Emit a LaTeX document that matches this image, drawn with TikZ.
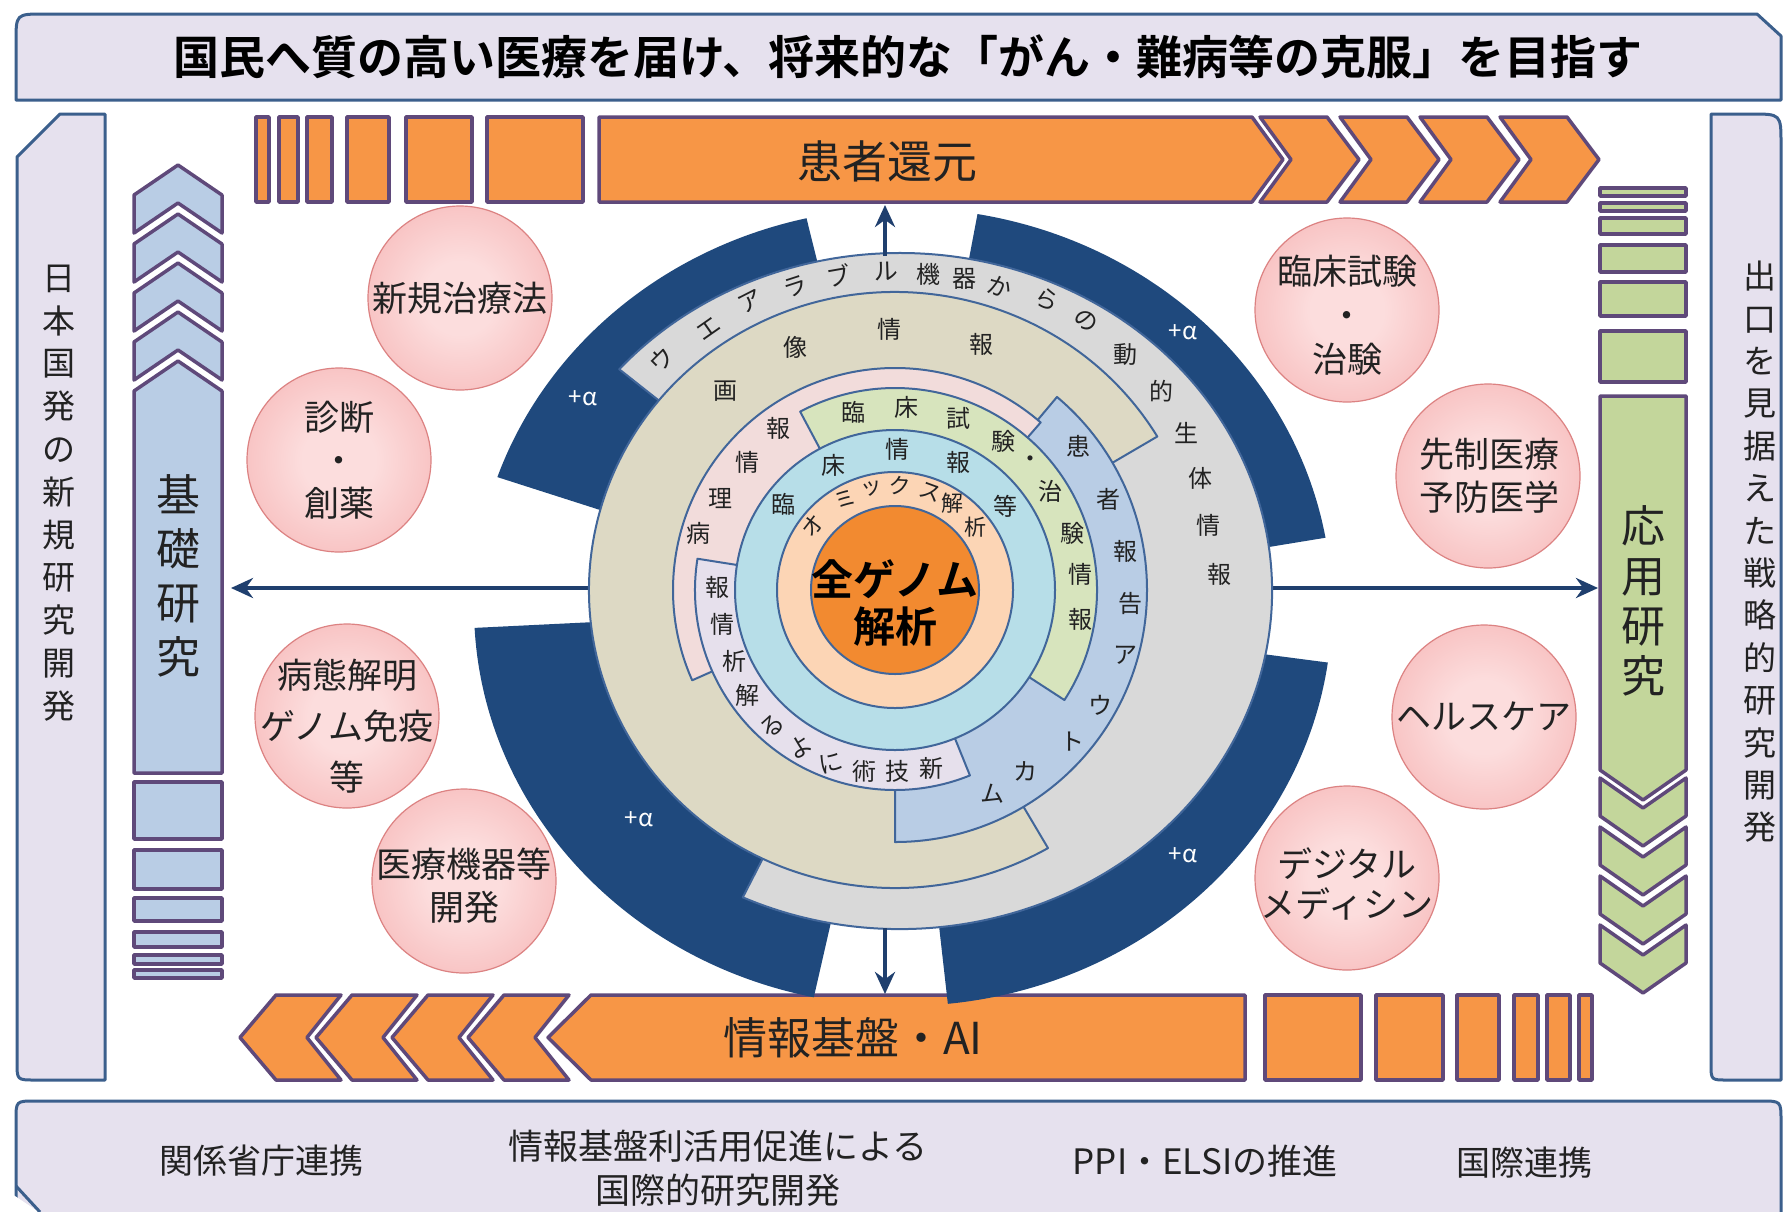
\documentclass[tikz,border=0pt]{standalone}
\usepackage{fontspec}
\newfontfamily\jp{Noto Sans CJK JP}
\newfontfamily\jpb{Noto Sans CJK JP Bold}
\usetikzlibrary{arrows.meta}
\newcommand\myfs[1]{\fontsize{#1}{#1}\selectfont}
\definecolor{panelfill}{HTML}{E6E1EE}
\definecolor{panelline}{HTML}{3B5F8C}
\definecolor{orangeb}{HTML}{F79646}
\definecolor{purpleb}{HTML}{5F497A}
\definecolor{colblue}{HTML}{B9CDE5}
\definecolor{colgreen}{HTML}{C3D69B}
\definecolor{navyr}{HTML}{1F497D}
\definecolor{navyline}{HTML}{1F3F6E}
\definecolor{ringline}{HTML}{41669A}
\definecolor{grayr}{HTML}{D9D9D9}
\definecolor{tanr}{HTML}{DDD9C4}
\definecolor{bluer}{HTML}{B9CDE5}
\definecolor{pinkr}{HTML}{F2DCDB}
\definecolor{greenr}{HTML}{D7E4BD}
\definecolor{lavr}{HTML}{E6E0EC}
\definecolor{lbluer}{HTML}{B7DEE8}
\definecolor{peachr}{HTML}{FCD5B5}
\definecolor{corer}{HTML}{F28A30}
\definecolor{pinkA}{HTML}{FCDDDD}
\definecolor{pinkM}{HTML}{F6B6B6}
\definecolor{pinkB}{HTML}{EE8A8A}
\definecolor{pinkline}{HTML}{DC8282}
\definecolor{txt}{HTML}{222222}
\pgfdeclareradialshading{pinkball}{\pgfpoint{0bp}{0bp}}{color(0bp)=(pinkA); color(10bp)=(pinkA); color(34bp)=(pinkM); color(50bp)=(pinkB)}
\tikzset{
  panel/.style={fill=panelfill, draw=panelline, line width=3pt},
  bandpart/.style={fill=orangeb, draw=purpleb, line width=3.5pt},
  colpartb/.style={fill=colblue, draw=purpleb, line width=3.5pt},
  colpartg/.style={fill=colgreen, draw=purpleb, line width=3.5pt},
  ring/.style={draw=ringline, line width=2pt},
  ringtxt/.style={font=\jp\myfs{24}, text=txt, inner sep=0pt},
  pinkcircle/.style={circle, shade, shading=pinkball, draw=pinkline, line width=1.2pt, minimum size=184pt, inner sep=0pt},
  circtxt/.style={font=\jp\fontsize{35}{43}\selectfont, text=txt, align=center, inner sep=0pt},
  navyarrow/.style={draw=navyline, line width=4pt, -{Stealth[length=22pt,width=20pt]}},
  alpha/.style={font=\jp\myfs{24}, text=white, inner sep=0pt},
  vtxt/.style={font=\jp\fontsize{33}{42.8}\selectfont, text=txt, align=center, inner sep=0pt}
}
\begin{document}
\begin{tikzpicture}[x=1pt,y=-1pt,line join=round]
\useasboundingbox (0,0) rectangle (1783,1211);
\fill[white] (0,0) rectangle (1783,1211);

% ---------- top banner ----------
\draw[panel] (16,100) -- (16,42) .. controls (16,14) .. (44,14) -- (1757,14) -- (1781,36) -- (1781,100) -- cycle;
\node[font=\jpb\myfs{46}, text=black, inner sep=0pt] (title) at (908,57) {国民へ質の高い医療を届け、将来的な「がん・難病等の克服」を目指す};

% ---------- side panels ----------
\draw[panel] (105,114) -- (60,114) -- (17,157) -- (17,1062) .. controls (17,1080) .. (35,1080) -- (105,1080) -- cycle;
\node[vtxt] (lefttxt) at (59,493) {日\\本\\国\\発\\の\\新\\規\\研\\究\\開\\発};
\draw[panel] (1711,114) -- (1751,114) .. controls (1781,114) .. (1781,144) -- (1781,1080) -- (1727,1080) .. controls (1711,1080) .. (1711,1064) -- cycle;
\node[vtxt, font=\jp\fontsize{33}{42.4}\selectfont] (righttxt) at (1760,552) {出\\口\\を\\見\\据\\え\\た\\戦\\略\\的\\研\\究\\開\\発};

% ---------- bottom banner ----------
\draw[panel] (16,1214) -- (16,1120) .. controls (16,1101) .. (35,1101) -- (1761,1101) .. controls (1781,1101) .. (1781,1121) -- (1781,1214) -- cycle;
\fill[white] (0,1186) -- (42,1214) -- (0,1214) -- cycle;
\draw[draw=panelline, line width=3pt] (16,1186) -- (40,1212);
\node[font=\jp\myfs{34}, text=txt, inner sep=0pt] (b1) at (261,1161) {関係省庁連携};
\node[font=\jp\fontsize{35}{44}\selectfont, text=txt, align=center, inner sep=0pt] (b2) at (718,1168) {情報基盤利活用促進による\\国際的研究開発};
\node[font=\jp\myfs{35}, text=txt, inner sep=0pt] (b3) at (1205,1161) {PPI・ELSIの推進};
\node[font=\jp\myfs{34}, text=txt, inner sep=0pt] (b4) at (1524,1163) {国際連携};

% ---------- top band ----------
\foreach \a/\b in {256/269, 279/298, 307/332, 347/389, 406/472, 487/583}
  \draw[bandpart] (\a,117) rectangle (\b,202);
\draw[bandpart] (599,117) -- (1252,117) -- (1283,159.5) -- (1252,202) -- (599,202) -- cycle;
\foreach \L in {1260,1340,1420,1500}
  \draw[bandpart] (\L,117) -- (\L+67,117) -- (\L+99,159.5) -- (\L+67,202) -- (\L,202) -- (\L+31,159.5) -- cycle;
\node[font=\jp\myfs{45}, text=txt, inner sep=0pt] (kanja) at (887,161) {患者還元};

% ---------- bottom band ----------
\foreach \T in {240,316,392,468}
  \draw[bandpart] (\T,1037.5) -- (\T+36,995) -- (\T+101,995) -- (\T+67,1037.5) -- (\T+101,1080) -- (\T+36,1080) -- cycle;
\draw[bandpart] (548,1037.5) -- (591,995) -- (1245,995) -- (1245,1080) -- (591,1080) -- cycle;
\foreach \a/\b in {1265/1361, 1376/1443, 1457/1499, 1514/1538, 1547/1570, 1579/1592}
  \draw[bandpart] (\a,995) rectangle (\b,1080);
\node[font=\jp\myfs{44}, text=txt, inner sep=0pt] (joho) at (853,1038) {情報基盤・AI};

% ---------- left column ----------
\foreach \t in {165,214,263,312}
  \draw[colpartb] (178,\t) -- (222,\t+30) -- (222,\t+68) -- (178,\t+38) -- (134,\t+68) -- (134,\t+30) -- cycle;
\draw[colpartb] (178,361) -- (222,391) -- (222,773) -- (134,773) -- (134,391) -- cycle;
\foreach \a/\b in {782/839, 850/889, 898/921, 932/947, 955/964, 970/978}
  \draw[colpartb] (134,\a) rectangle (222,\b);
\node[font=\jp\fontsize{44}{54}\selectfont, text=txt, align=center, inner sep=0pt] (kiso) at (178,576) {基\\礎\\研\\究};

% ---------- right column ----------
\foreach \a/\b in {188/196, 203/211, 218/234, 245/272, 282/316, 331/382}
  \draw[colpartg] (1600,\a) rectangle (1686,\b);
\draw[colpartg] (1600,396) -- (1686,396) -- (1686,770) -- (1643,800) -- (1600,770) -- cycle;
\foreach \s in {778,827,876,925}
  \draw[colpartg] (1600,\s) -- (1643,\s+30) -- (1686,\s) -- (1686,\s+38) -- (1643,\s+68) -- (1600,\s+38) -- cycle;
\node[font=\jp\fontsize{44}{50}\selectfont, text=txt, align=center, inner sep=0pt] (oyo) at (1643,601) {応\\用\\研\\究};

% ---------- horizontal arrows ----------
\coordinate (hc) at (895,588);
\coordinate (kisoE) at (231,588);
\coordinate (oyoW) at (1598,588);
\draw[navyarrow] (hc) -- (kisoE);
\draw[navyarrow] (hc) -- (oyoW);

% ---------- central rings ----------
\begin{scope}[shift={(895,590)}, yscale=-1]
  \foreach \a/\b in {10/80, 103/161, 183/258, 276/352}
    \fill[navyr] (8,-17) -- ++(\a:429 and 399) arc[start angle=\a, end angle=\b, x radius=429, y radius=399] -- cycle;
  \filldraw[ring, fill=grayr] (5,-1) -- ++(-115:372 and 338) arc[start angle=-115, end angle=139, x radius=372, y radius=338] -- cycle;
  \filldraw[ring, fill=tanr] (0,0) -- (31:306 and 298) arc[start angle=31, end angle=300, x radius=306, y radius=298] -- cycle;
  \filldraw[ring, fill=bluer] (0,0) -- (-90:252) arc[start angle=-90, end angle=50, radius=252] -- cycle;
  \filldraw[ring, fill=pinkr] (0,0) -- (49:222) arc[start angle=49, end angle=204, radius=222] -- cycle;
  \filldraw[ring, fill=greenr] (0,0) -- (-33:202) arc[start angle=-33, end angle=118, radius=202] -- cycle;
  \filldraw[ring, fill=lavr] (0,0) -- (171:200) arc[start angle=171, end angle=292, radius=200] -- cycle;
  \filldraw[ring, fill=lbluer] (0,0) circle[radius=160];
  \filldraw[ring, fill=peachr] (0,0) circle[radius=118];
  \filldraw[ring, fill=corer] (0,0) circle[radius=84];
  % ring texts
  \foreach \c/\x/\y/\r [count=\i] in {ウ/-234/230/45, エ/-186/261/35, ア/-145/288/27, ラ/-100/303/18, ブ/-56/314/10, ル/-9/319/2, 機/33/316/0, 器/69/311/0, か/105/303/-19, ら/152/290/-28, の/191/269/-35, 動/230/235/0, 的/266/199/0, 生/291/157/0, 体/305/112/0, 情/313/65/0, 報/324/16/0}
    \node[ringtxt, rotate=\r] (wa\i) at (\x,\y) {\c};
  \foreach \c/\x/\y [count=\i] in {画/-170/199, 像/-100/243, 情/-6/261, 報/86/246}
    \node[ringtxt] (ga\i) at (\x,\y) {\c};
  \foreach \c/\x/\y [count=\i] in {病/-197/57, 理/-175/91, 情/-148/128, 報/-117/162}
    \node[ringtxt] (by\i) at (\x,\y) {\c};
  \foreach \c/\x/\y/\r [count=\i] in {報/-178/3/0, 情/-173/-34/0, 析/-161/-71/0, 解/-148/-105/0, る/-123/-136/40, よ/-95/-157/30, に/-64/-173/15, 術/-31/-181/0, 技/2/-181/0, 新/36/-178/0}
    \node[ringtxt, rotate=\r] (sg\i) at (\x,\y) {\c};
  \foreach \c/\x/\y [count=\i] in {臨/-112/86, 床/-62/125, 情/2/141, 報/63/128, 等/110/84}
    \node[ringtxt] (rj\i) at (\x,\y) {\c};
  \foreach \c/\x/\y/\r [count=\i] in {オ/-82/64/52, ミ/-50/91/29, ッ/-23/101/13, ク/5/104/-3, ス/35/98/-20, 解/57/87/0, 析/80/63/0}
    \node[ringtxt, font=\jp\myfs{22}, rotate=\r] (om\i) at (\x,\y) {\c};
  \foreach \c/\x/\y [count=\i] in {臨/-42/178, 床/11/183, 試/63/172, 験/108/149, ・/135/128, 治/155/99, 験/177/57, 情/185/16, 報/185/-29}
    \node[ringtxt] (ch\i) at (\x,\y) {\c};
  \foreach \c/\x/\y [count=\i] in {患/183/144, 者/213/91, 報/230/39, 告/235/-13, ア/230/-65, ウ/205/-115, ト/177/-152, カ/130/-181, ム/97/-204}
    \node[ringtxt] (pr\i) at (\x,\y) {\c};
  \node[font=\jpb\fontsize{42}{47}\selectfont, text=black, align=center, inner sep=0pt] (core) at (0,-13) {全ゲノム\\解析};
\end{scope}

% +alpha labels
\node[alpha] (al1) at (583,398) {+α};
\node[alpha] (al2) at (1183,332) {+α};
\node[alpha] (al3) at (639,819) {+α};
\node[alpha] (al4) at (1183,855) {+α};

% vertical arrows
\coordinate (ringtop) at (885,256);
\coordinate (bandtop) at (885,205);
\coordinate (ringbot) at (885,928);
\coordinate (bandbot) at (885,994);
\draw[navyarrow] (ringtop) -- (bandtop);
\draw[navyarrow] (ringbot) -- (bandbot);

% ---------- pink circles ----------
\node[pinkcircle] (c1) at (460,298) {};
\node[pinkcircle] (c2) at (339,460) {};
\node[pinkcircle] (c3) at (347,716) {};
\node[pinkcircle] (c4) at (464,881) {};
\node[pinkcircle] (c5) at (1347,310) {};
\node[pinkcircle] (c6) at (1488,476) {};
\node[pinkcircle] (c7) at (1484,717) {};
\node[pinkcircle] (c8) at (1347,878) {};
\node[circtxt] (t1) at (460,298) {新規治療法};
\node[circtxt] (t2) at (339,460) {診断\\・\\創薬};
\node[circtxt, font=\jp\fontsize{35}{51}\selectfont] (t3) at (347,726) {病態解明\\ゲノム免疫\\等};
\node[circtxt] (t4) at (464,886) {医療機器等\\開発};
\node[circtxt, font=\jp\fontsize{35}{44}\selectfont] (t5) at (1347,315) {臨床試験\\・\\治験};
\node[circtxt] (t6) at (1489,476) {先制医療\\予防医学};
\node[circtxt] (t7) at (1484,716) {ヘルスケア};
\node[circtxt, font=\jp\fontsize{35}{40}\selectfont] (t8) at (1347,884) {デジタル\\メディシン};
\end{tikzpicture}
\end{document}
